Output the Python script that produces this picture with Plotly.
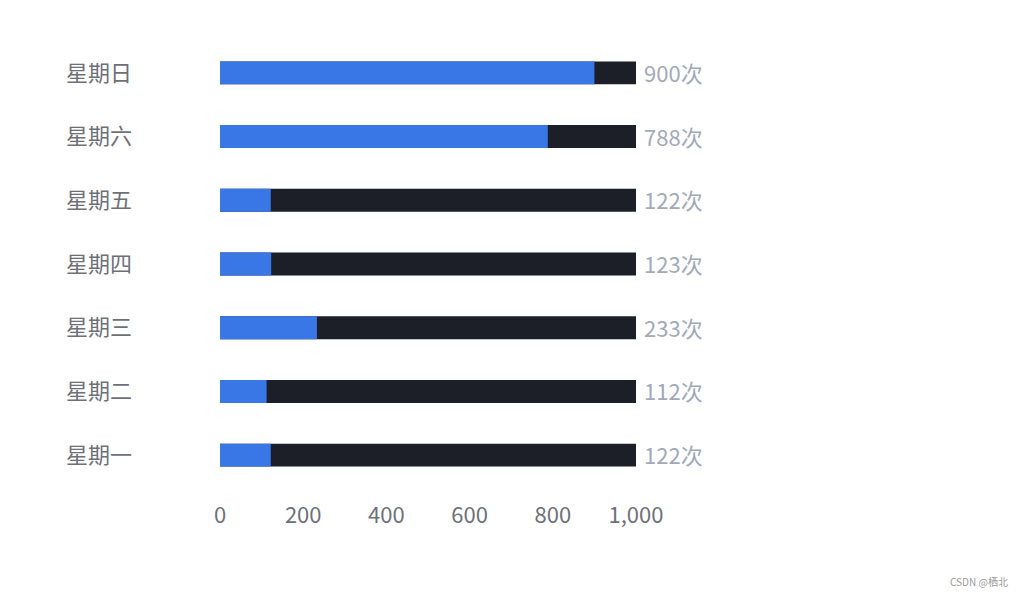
import plotly.graph_objects as go

# 数据
days = ["星期一", "星期二", "星期三", "星期四", "星期五", "星期六", "星期日"]
counts = [122, 112, 233, 123, 122, 788, 900]
max_value = 1000
x_ticks = [0, 200, 400, 600, 800, 1000]

font_family = "Noto Sans CJK SC, Noto Sans, sans-serif"

fig = go.Figure()

# 背景条
fig.add_trace(go.Bar(
    y=days,
    x=[max_value] * len(days),
    orientation="h",
    marker=dict(color="#1c1f27", line=dict(width=0)),
    width=0.36,
    hoverinfo="skip",
))

# 数值条
fig.add_trace(go.Bar(
    y=days,
    x=counts,
    orientation="h",
    marker=dict(color="#3a77e6", line=dict(width=0)),
    width=0.36,
))

# 右侧文字
annotations = [
    dict(
        x=max_value, y=d, xref="x", yref="y",
        text=f"{v}次",
        xanchor="left", yanchor="middle", xshift=6, yshift=1,
        showarrow=False,
        font=dict(size=22, color="#a3a9b8"),
    )
    for d, v in zip(days, counts)
]

# 水印
annotations.append(dict(
    text="CSDN @栖北",
    xref="paper", yref="paper",
    x=1, y=0, xanchor="right", yanchor="bottom",
    xshift=374, yshift=-104,
    showarrow=False,
    font=dict(size=10, color="#999999"),
))

fig.update_layout(
    width=1024,
    height=604,
    barmode="overlay",
    showlegend=False,
    plot_bgcolor="white",
    paper_bgcolor="white",
    margin=dict(l=212, r=396, t=33, b=125),
    font=dict(family=font_family),
    xaxis=dict(
        range=[0, max_value],
        tickvals=x_ticks,
        tickformat=",",
        showgrid=False,
        zeroline=False,
        showline=False,
        tickfont=dict(size=22, color="#6e7079"),
        ticklabelstandoff=13,
    ),
    yaxis=dict(
        showgrid=False,
        showline=False,
        ticks="",
        tickfont=dict(size=22, color="#6e7079"),
        ticklabelstandoff=87,
    ),
    annotations=annotations,
)

fig.write_html("out.html")
